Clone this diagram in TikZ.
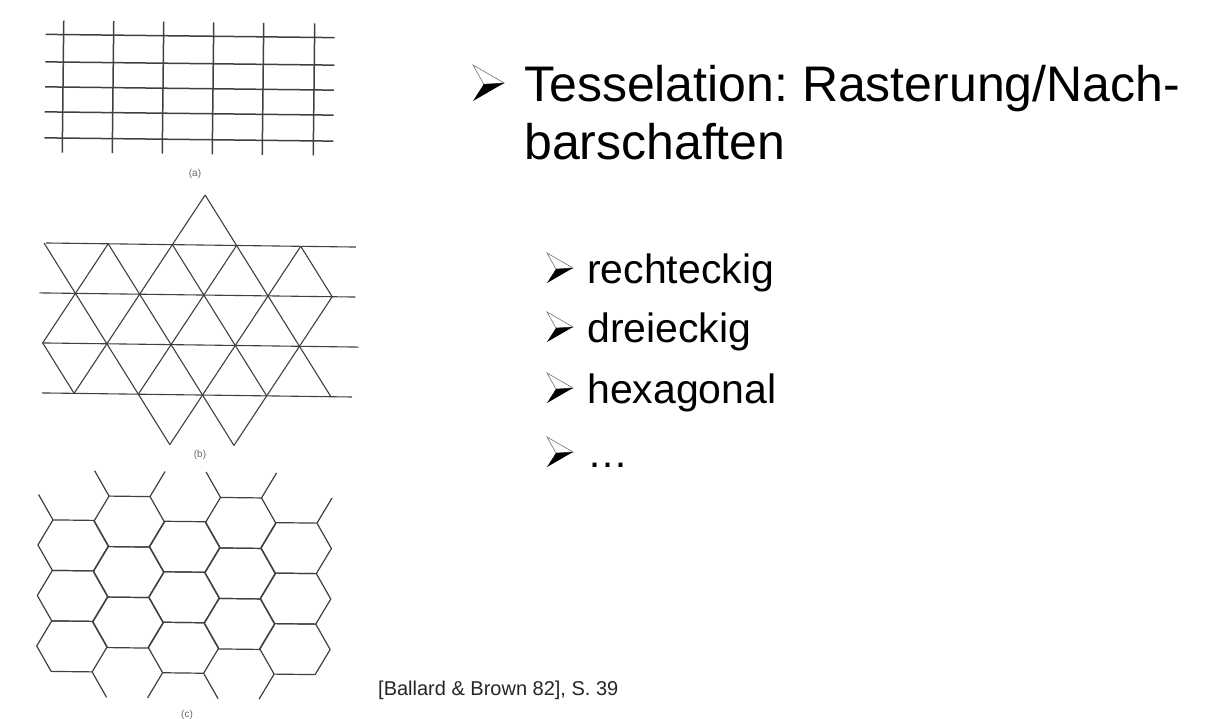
\documentclass[tikz,border=0pt]{standalone}
\usepackage{fontspec}
\setmainfont{Liberation Sans}
\usetikzlibrary{calc}
\frenchspacing

\tikzset{
  pfeil/.pic={
    \fill[white,draw=black!55,line width=0.6pt] (0,0) -- (26,15) -- (9,16) -- cycle;
    \fill[black] (9,16) -- (26,15) -- (0,30) -- cycle;
  }
}

\begin{document}
\begin{tikzpicture}[x=1pt,y=-1pt,
  raster/.style={black!75,line width=1.5pt},
  dreieck/.style={black!75,line width=1.1pt},
  wabe/.style={black!75,line width=1.2pt,line join=round},
  unterschrift/.style={font=\fontsize{10}{12}\selectfont,text=black!60,inner sep=0pt},
  titel/.style={font=\fontsize{50}{60}\selectfont,anchor=base west,inner sep=0pt},
  punkt/.style={font=\fontsize{41}{49}\selectfont,anchor=base west,inner sep=0pt}]
\useasboundingbox[fill=white] (0,0) rectangle (1216,718);

% (a) rechteckig
\begin{scope}[rotate around={-0.65:(190,88)}]
  \foreach \y in {36,63.5,88.5,113.5,139.5}
    \draw[raster] (45,\y) -- (334,\y);
  \foreach \x in {63,113,163,213,263,314}
    \draw[raster] (\x,22) -- (\x,154);
\end{scope}
\node[unterschrift] (laba) at (195,174) {(a)};

% (b) dreieckig
\begin{scope}[rotate around={-0.75:(200,320)}]
  \foreach \xa/\xb/\y in {45/355/245,39/355/295,43/359/345,43/353/395}
    \draw[dreieck] (\xa,\y) -- (\xb,\y);
  \foreach \a/\b/\c/\d in {0/2/1/3,0/0/4/4,2/0/6/4,4/0/7/3,5/-1/9/3,8/0/9/1,
                           2/0/0/2,5/-1/1/3,6/0/3/3,8/0/4/4,9/1/6/4}
    \draw[dreieck] ({43+32.1*\a},{245+50*\b}) -- ({43+32.1*\c},{245+50*\d});
\end{scope}
\node[unterschrift] (labb) at (200,455) {(b)};

% (c) hexagonal
\begin{scope}[rotate around={-0.7:(184,585)}]
  \foreach \k/\hy in {0/521.5,1/497,2/521.5,3/497,4/521.5} {
    \pgfmathsetmacro\hx{72.7+55.75*\k}
    \foreach \j in {0,1,2}
      \draw[wabe] ({\hx-20.5},{\hy+50.5*\j}) -- ++(41,0) -- ++(14.75,25.25)
        -- ++(-14.75,25.25) -- ++(-41,0) -- ++(-14.75,-25.25) -- cycle;
  }
  \draw[wabe] (52.2,521.5) -- ++(-14.75,-25.25);
  \draw[wabe] (107.95,497) -- ++(-14.75,-25.25);
  \draw[wabe] (148.95,497) -- ++(14.75,-25.25);
  \draw[wabe] (219.45,497) -- ++(-14.75,-25.25);
  \draw[wabe] (260.45,497) -- ++(14.75,-25.25);
  \draw[wabe] (316.2,521.5) -- ++(14.75,-25.25);
  \draw[wabe] (93.2,673) -- ++(14.75,25.25);
  \draw[wabe] (163.7,673) -- ++(-14.75,25.25);
  \draw[wabe] (204.7,673) -- ++(14.75,25.25);
  \draw[wabe] (275.2,673) -- ++(-14.75,25.25);
\end{scope}
\node[unterschrift] (labc) at (187,715) {(c)};

% Text
\pic[scale=1.2] at (473,65) {pfeil};
\node[titel] (titel1) at (524,101) {Tesselation: Rasterung/Nach-};
\node[titel] (titel2) at (524,159) {barschaften};

\pic at (547,253) {pfeil};
\node[punkt] (rechteck) at (587,283) {rechteckig};
\pic at (547,312) {pfeil};
\node[punkt] (dreieck) at (587,342) {dreieckig};
\pic at (547,373) {pfeil};
\node[punkt] (hexagon) at (587,403) {hexagonal};
\pic at (547,437) {pfeil};
\node[punkt] (weitere) at (587,467) {…};

\node[font=\fontsize{20}{24}\selectfont,text=black!85,anchor=base west,inner sep=0pt]
  (quelle) at (378,695) {[Ballard \& Brown 82], S. 39};
\end{tikzpicture}
\end{document}
